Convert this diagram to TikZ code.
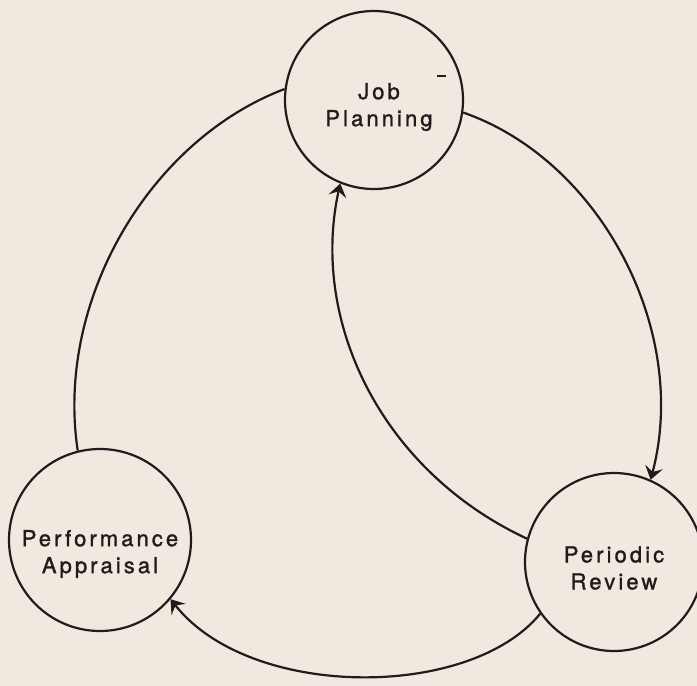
\documentclass[tikz,border=0pt]{standalone}
\usepackage{fontspec}
\setmainfont{TeX Gyre Heros}[LetterSpace=14,FakeBold=1.3]
\usetikzlibrary{arrows.meta}
\definecolor{paper}{RGB}{241,233,224}
\definecolor{ink}{RGB}{30,28,28}
\begin{document}
\begin{tikzpicture}[x=1pt,y=-1pt,
  stage/.style={circle,draw=ink,line width=2.2pt,minimum size=178pt,inner sep=0pt},
  caption/.style={align=center,text=ink,inner sep=0pt,font=\fontsize{22}{27}\selectfont},
  flow/.style={draw=ink,line width=2.2pt},
  tip/.style={-{Stealth[length=13pt,width=18pt,inset=5pt]}}]
\fill[paper] (0,0) rectangle (697,686);
\useasboundingbox (0,0) rectangle (697,686);

\node[stage] (jp) at (374,100) {};
\node[stage,minimum size=182pt] (pa) at (100,540) {};
\node[stage] (pr) at (614,562) {};

\node[caption] (jptext) at ([xshift=5pt,yshift=-7pt]jp.center) {Job\\Planning};
\node[caption] (patext) at ([yshift=-14pt]pa.center) {Performance\\Appraisal};
\node[caption] (prtext) at ([yshift=-6pt]pr.center) {Periodic\\Review};

% stray tick inside the planning circle
\draw[ink,line width=1.8pt] (437,76) -- (446,76);

% cycle: planning -> review -> appraisal -> planning
\draw[flow,tip] (jp.-8) .. controls (600,160) and (690,330) .. (pr.66);
\draw[flow,tip] (pr.-145) .. controls (470,700) and (250,700) .. (pa.-40);
\draw[flow] (pa.104) .. controls (55,300) and (150,140) .. (jp.173);
% review feeds back into planning
\draw[flow,tip] (pr.165) .. controls (380,470) and (310,320) .. (jp.-112);
\end{tikzpicture}
\end{document}
